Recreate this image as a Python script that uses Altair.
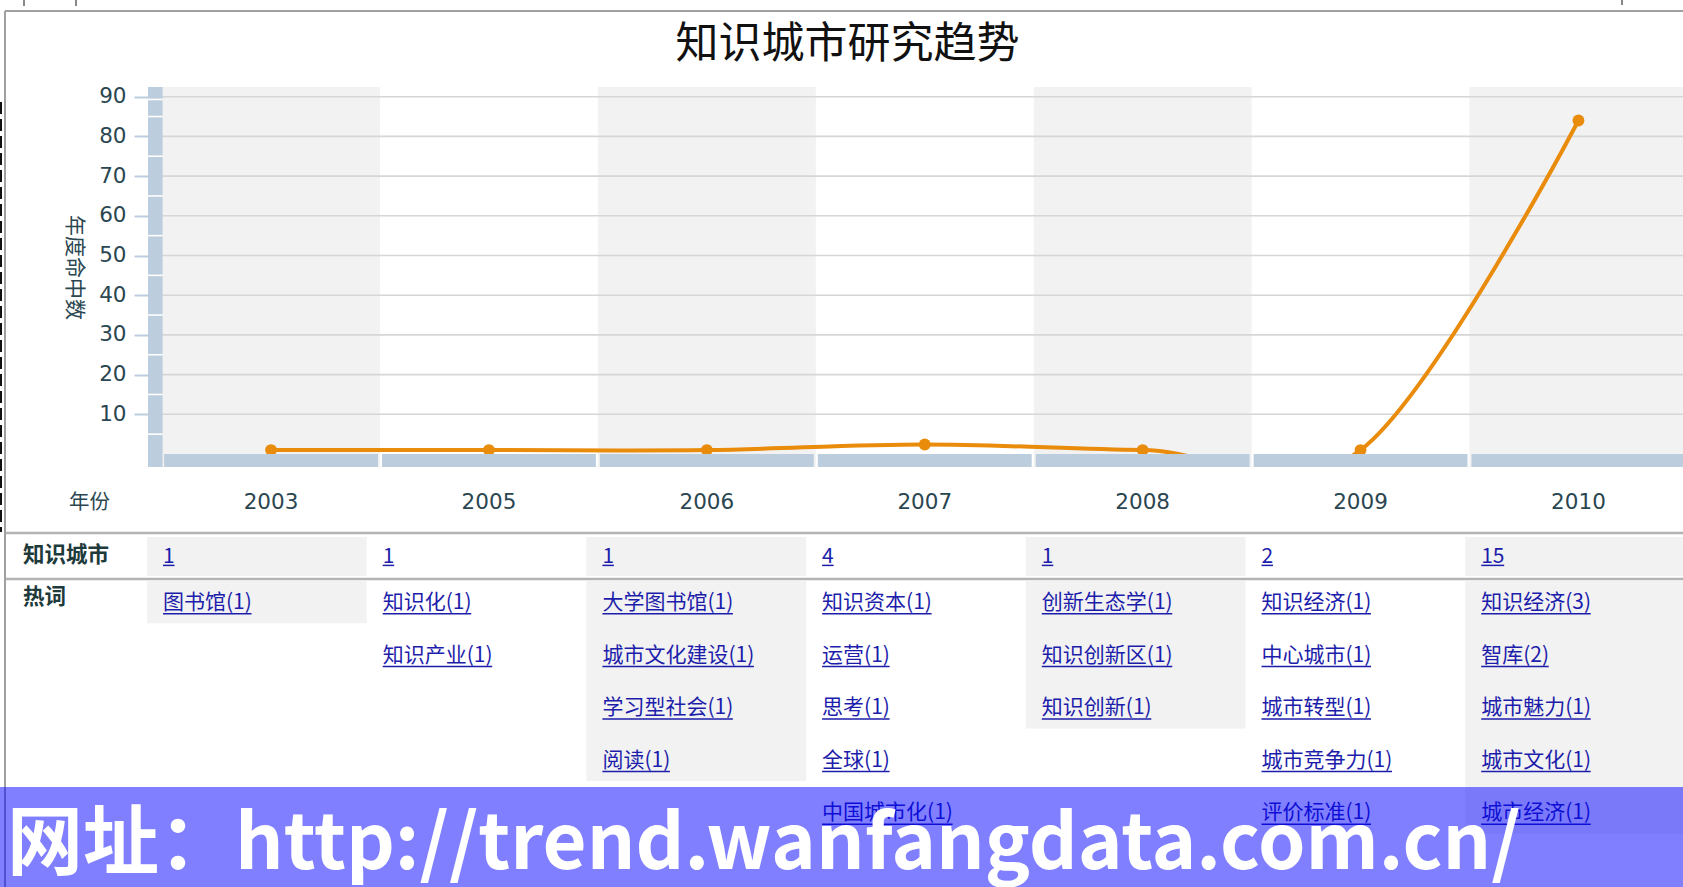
import altair as alt
import pandas as pd

# ---------------- data ----------------
TITLE = "知识城市研究趋势"
Y_TITLE = "年度命中数"
X_TITLE = "年份"
YEARS = ["2003", "2005", "2006", "2007", "2008", "2009", "2010"]
HITS = [1, 1, 1, 2.4, 1, 1, 84]            # values
COUNTS = [1, 1, 1, 4, 1, 2, 15]            # 知识城市 row of the table
ROW_LABELS = ["知识城市", "热词"]
HOT_WORDS = [
    ["图书馆(1)"],
    ["知识化(1)", "知识产业(1)"],
    ["大学图书馆(1)", "城市文化建设(1)", "学习型社会(1)", "阅读(1)"],
    ["知识资本(1)", "运营(1)", "思考(1)", "全球(1)", "中国城市化(1)"],
    ["创新生态学(1)", "知识创新区(1)", "知识创新(1)"],
    ["知识经济(1)", "中心城市(1)", "城市转型(1)", "城市竞争力(1)", "评价标准(1)"],
    ["知识经济(3)", "智库(2)", "城市魅力(1)", "城市文化(1)", "城市经济(1)"],
]
Y_TICKS = [10, 20, 30, 40, 50, 60, 70, 80, 90]
URL_TEXT = "网址：http://trend.wanfangdata.com.cn/"

# ---------------- layout / style ----------------
PAD_L, PAD_T = 148, 87
W, H = 1535, 380
CANVAS_W, CANVAS_H = 1683, 887
Y_MIN, Y_MAX = -3.27, 92.44
COL_W = 217.9
COL0 = 14.1
TCOL_W = 219.7
WORD_FS = 21

ORANGE = "#e98b0b"
BLUE_BAR = "#bccddd"
GRAY_BAND = "#f2f2f2"
GRID = "#d6d6d6"
AXIS_TEXT = "#2a4650"
LABEL_TEXT = "#1e3a3a"
LINK = "#1d1dab"
CJK = "Noto Sans CJK SC"

# ---------------- main chart ----------------
xs = alt.Scale(domain=YEARS, range=[COL0, COL0 + 7 * COL_W], paddingInner=0, paddingOuter=0)
ys = alt.Scale(domain=[Y_MIN, Y_MAX], zero=False, nice=False)

x_axis = alt.Axis(orient="bottom", domain=False, ticks=False, tickSize=0, labelPadding=35.5,
                  labelBaseline="middle", labelAngle=0, labelFont="DejaVu Sans", labelFontSize=21.5,
                  labelColor=AXIS_TEXT, title=X_TITLE, titleFont=CJK, titleFontSize=20.5,
                  titleFontWeight="normal", titleColor=AXIS_TEXT, titleX=-59, titleY=35.5,
                  titleAlign="center", titleBaseline="middle", grid=False)
y_axis = alt.Axis(values=Y_TICKS, grid=False, domain=False, ticks=True, tickSize=14, tickColor=BLUE_BAR,
                  tickWidth=2, labelFont="DejaVu Sans", labelFontSize=21.5, labelColor=AXIS_TEXT,
                  labelPadding=8, title=Y_TITLE, titleFont=CJK, titleFontSize=21,
                  titleFontWeight="normal", titleColor=AXIS_TEXT, titleAngle=90, titleX=-75,
                  titleY=180, titleAlign="center", titleBaseline="middle")

def X():
    return alt.X("year:O", scale=xs, axis=x_axis, title=X_TITLE)

def Y(field="v"):
    return alt.Y(f"{field}:Q", scale=ys, axis=y_axis, title=Y_TITLE)

line_df = pd.DataFrame({"year": YEARS, "v": HITS})
band_df = pd.DataFrame({"year": YEARS[::2]})
tick_df = pd.DataFrame({"v": Y_TICKS})

bounds = [Y_MIN] + [t - 5 for t in Y_TICKS] + [Y_TICKS[-1] - 0.7, Y_MAX]
seg_df = pd.DataFrame({
    "v": [bounds[i] + (0.2 if i > 0 else 0) for i in range(len(bounds) - 1)],
    "v2": [bounds[i + 1] - (0.2 if i + 1 < len(bounds) - 1 else 0) for i in range(len(bounds) - 1)],
})

bands = alt.Chart(band_df).mark_rect(color=GRAY_BAND).encode(
    x=X(), y=alt.value(0), y2=alt.value(H))
grid = alt.Chart(tick_df).mark_rule(color=GRID, strokeWidth=1.6).encode(y=Y())
line = alt.Chart(line_df).mark_line(interpolate="cardinal", color=ORANGE, strokeWidth=4, clip=True).encode(
    x=X(), y=Y())
points = alt.Chart(line_df).mark_circle(size=140, color=ORANGE, opacity=1).encode(x=X(), y=Y())
bottom_bar = alt.Chart(line_df).transform_calculate(b0="0", b1=str(Y_MIN)).mark_bar(
    color=BLUE_BAR, width=alt.RelativeBandSize(214 / 218)).encode(
    x=X(), y=Y("b0"), y2="b1:Q")
y_bar = alt.Chart(seg_df).mark_rect(color=BLUE_BAR).encode(
    x=alt.value(0), x2=alt.value(14.6), y=Y(), y2="v2:Q")

main = alt.layer(bands, grid, line, points, bottom_bar, y_bar)

# ---------------- table below ----------------
tx = alt.Scale(domain=[0, 7], range=[-1, -1 + 7 * TCOL_W], zero=False, nice=False)
ty = alt.Scale(domain=[0, 5], range=[463.4, 726.4], zero=False, nice=False)

def TX(f):
    return alt.X(f"{f}:Q", scale=tx, axis=None)

def TY(f):
    return alt.Y(f"{f}:Q", scale=ty, axis=None)

table_df = pd.DataFrame({
    "c": list(range(len(YEARS))),
    "year": YEARS,
    "count": [str(v) for v in COUNTS],
    "n": [len(w) for w in HOT_WORDS],
})
word_rows = []
for c, words in enumerate(HOT_WORDS):
    for k, w in enumerate(words, start=1):
        word_rows.append({"c": c, "k": k, "word": w})
words_df = pd.DataFrame(word_rows)
label_df = pd.DataFrame({"label": ROW_LABELS, "r": [0, 1]})
one = pd.DataFrame({"t": [TITLE]})
url_df = pd.DataFrame({"t": [URL_TEXT]})

pad = 16 / TCOL_W

head_gray = alt.Chart(table_df).transform_filter("datum.c % 2 == 0").transform_calculate(
    c2="datum.c + 1", y1="-0.255", y2="0.487").mark_rect(color=GRAY_BAND).encode(
    x=TX("c"), x2="c2:Q", y=TY("y1"), y2="y2:Q")
word_gray = alt.Chart(table_df).transform_filter("datum.c % 2 == 0").transform_calculate(
    c2="datum.c + 1", y1="0.582", y2="datum.n + 0.386").mark_rect(color=GRAY_BAND).encode(
    x=TX("c"), x2="c2:Q", y=TY("y1"), y2="y2:Q")

sep1 = alt.Chart(one).mark_rule(color="#b4b4b4", strokeWidth=2.5).encode(
    x=alt.value(5 - PAD_L), x2=alt.value(W), y=alt.value(533 - PAD_T))
sep2 = alt.Chart(one).mark_rule(color="#b4b4b4", strokeWidth=2.5).encode(
    x=alt.value(5 - PAD_L), x2=alt.value(W), y=alt.value(579 - PAD_T))

count_text = alt.Chart(table_df).transform_calculate(
    xt=f"datum.c + {pad}", yt="0.125").mark_text(
    align="left", baseline="middle", font=CJK, fontSize=WORD_FS, color=LINK).encode(
    x=TX("xt"), y=TY("yt"), text="count:N")
count_ul = alt.Chart(table_df).transform_calculate(
    xt=f"datum.c + {pad}", xe=f"datum.c + {pad} + length(datum.count) * 11.5 / {TCOL_W}",
    yu="0.285").mark_rule(color=LINK, strokeWidth=1.5).encode(
    x=TX("xt"), x2="xe:Q", y=TY("yu"))

word_text = alt.Chart(words_df).transform_calculate(
    xt=f"datum.c + {pad}").mark_text(
    align="left", baseline="middle", font=CJK, fontSize=WORD_FS, color=LINK).encode(
    x=TX("xt"), y=TY("k"), text="word:N")
word_ul = alt.Chart(words_df).transform_calculate(
    xt=f"datum.c + {pad}",
    xe=f"datum.c + {pad} + ((length(datum.word) - 3) * {WORD_FS} + 25.5) / {TCOL_W}",
    yu="datum.k + 0.205").mark_rule(color=LINK, strokeWidth=1.5).encode(
    x=TX("xt"), x2="xe:Q", y=TY("yu"))

row_labels = alt.Chart(label_df).transform_calculate(
    yt="datum.r == 0 ? 0.1 : 0.9").mark_text(
    align="left", baseline="middle", font=CJK, fontSize=21.5, fontWeight="bold", color=LABEL_TEXT).encode(
    x=alt.value(23 - PAD_L), y=TY("yt"), text="label:N")

# frame pieces of the screenshot
border_left = alt.Chart(one).mark_rule(color="#a0a0a0", strokeWidth=2).encode(
    x=alt.value(5 - PAD_L), y=alt.value(11 - PAD_T), y2=alt.value(CANVAS_H - PAD_T))
border_top = alt.Chart(one).mark_rule(color="#a0a0a0", strokeWidth=2).encode(
    x=alt.value(5 - PAD_L), x2=alt.value(W), y=alt.value(11 - PAD_T))
edge_marks = alt.Chart(one).mark_rule(color="#111111", strokeWidth=2, strokeDash=[12, 5]).encode(
    x=alt.value(1 - PAD_L), y=alt.value(102 - PAD_T), y2=alt.value(532 - PAD_T))
top_tick1 = alt.Chart(one).mark_rule(color="#888888", strokeWidth=2).encode(
    x=alt.value(24 - PAD_L), y=alt.value(-PAD_T), y2=alt.value(6 - PAD_T))
top_tick2 = alt.Chart(one).mark_rule(color="#888888", strokeWidth=2).encode(
    x=alt.value(76 - PAD_L), y=alt.value(-PAD_T), y2=alt.value(6 - PAD_T))
top_tick3 = alt.Chart(one).mark_rule(color="#888888", strokeWidth=2).encode(
    x=alt.value(1622 - PAD_L), y=alt.value(-PAD_T), y2=alt.value(5 - PAD_T))

title = alt.Chart(one).mark_text(align="center", baseline="middle", font=CJK, fontSize=43,
                                 fontWeight="normal", color="#111111").encode(
    x=alt.value(847.5 - PAD_L), y=alt.value(44.5 - PAD_T), text="t:N")

overlay = alt.Chart(one).mark_rect(color="#0000ff", opacity=0.5).encode(
    x=alt.value(-PAD_L), x2=alt.value(W), y=alt.value(787 - PAD_T), y2=alt.value(CANVAS_H - PAD_T))
url_text = alt.Chart(url_df).mark_text(align="left", baseline="alphabetic", font=CJK, fontSize=76,
                                       fontWeight="bold", color="#ffffff").encode(
    x=alt.value(7 - PAD_L), y=alt.value(869 - PAD_T), text="t:N")

table = alt.layer(head_gray, word_gray, sep1, sep2, count_ul, count_text, word_ul, word_text,
                  row_labels, border_left, border_top, edge_marks, top_tick1, top_tick2, top_tick3,
                  title, overlay, url_text)

chart = alt.layer(main, table).resolve_scale(x="independent", y="independent").properties(
    width=W, height=H,
    autosize=alt.AutoSizeParams(type="none"),
    padding={"left": PAD_L, "top": PAD_T, "right": CANVAS_W - PAD_L - W, "bottom": CANVAS_H - PAD_T - H},
    background="#ffffff",
).configure_view(stroke=None)

chart.save("out.html", embed_options={"renderer": "svg", "actions": False})
